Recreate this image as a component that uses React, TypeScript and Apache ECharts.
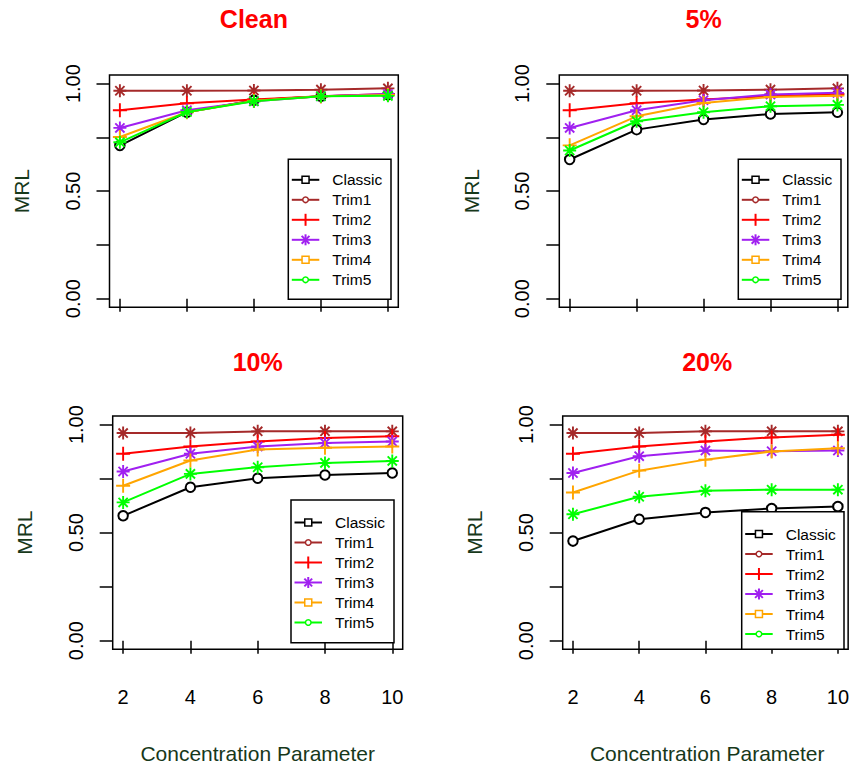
import React, { useEffect, useRef } from "react";
import * as echarts from "echarts";

// ---------- data ----------
const concentration = [2, 4, 6, 8, 10];
const seriesNames = ["Classic", "Trim1", "Trim2", "Trim3", "Trim4", "Trim5"];
const panelTitles = ["Clean", "5%", "10%", "20%"];
const yTickValues = [0, 0.25, 0.5, 0.75, 1];
const yLabelValues = [0, 0.5, 1];
const yAxisTitle = "MRL";
const xAxisTitle = "Concentration Parameter";

const cleanClassic = [0.712, 0.867, 0.923, 0.941, 0.948];
const cleanTrim1 = [0.967, 0.967, 0.968, 0.972, 0.978];
const cleanTrim2 = [0.876, 0.909, 0.926, 0.941, 0.952];
const cleanTrim3 = [0.794, 0.876, 0.918, 0.941, 0.952];
const cleanTrim4 = [0.752, 0.867, 0.92, 0.941, 0.947];
const cleanTrim5 = [0.727, 0.868, 0.918, 0.941, 0.943];

const pct5Classic = [0.647, 0.786, 0.833, 0.859, 0.867];
const pct5Trim1 = [0.967, 0.967, 0.968, 0.972, 0.978];
const pct5Trim2 = [0.876, 0.909, 0.926, 0.941, 0.952];
const pct5Trim3 = [0.794, 0.876, 0.923, 0.949, 0.957];
const pct5Trim4 = [0.713, 0.848, 0.91, 0.938, 0.944];
const pct5Trim5 = [0.689, 0.825, 0.867, 0.895, 0.901];

const pct10Classic = [0.578, 0.71, 0.752, 0.767, 0.776];
const pct10Trim1 = [0.961, 0.961, 0.969, 0.969, 0.969];
const pct10Trim2 = [0.865, 0.899, 0.922, 0.938, 0.946];
const pct10Trim3 = [0.783, 0.865, 0.899, 0.915, 0.922];
const pct10Trim4 = [0.717, 0.834, 0.885, 0.893, 0.899];
const pct10Trim5 = [0.64, 0.772, 0.803, 0.823, 0.832];

const pct20Classic = [0.461, 0.562, 0.593, 0.612, 0.621];
const pct20Trim1 = [0.961, 0.961, 0.969, 0.969, 0.969];
const pct20Trim2 = [0.865, 0.899, 0.922, 0.941, 0.953];
const pct20Trim3 = [0.776, 0.854, 0.88, 0.877, 0.88];
const pct20Trim4 = [0.686, 0.787, 0.838, 0.876, 0.891];
const pct20Trim5 = [0.585, 0.666, 0.694, 0.699, 0.699];

const panelData = [
  [cleanClassic, cleanTrim1, cleanTrim2, cleanTrim3, cleanTrim4, cleanTrim5],
  [pct5Classic, pct5Trim1, pct5Trim2, pct5Trim3, pct5Trim4, pct5Trim5],
  [pct10Classic, pct10Trim1, pct10Trim2, pct10Trim3, pct10Trim4, pct10Trim5],
  [pct20Classic, pct20Trim1, pct20Trim2, pct20Trim3, pct20Trim4, pct20Trim5],
];

// ---------- styles / layout ----------
const FONT = "'Liberation Sans', Arial, Helvetica, sans-serif";
const colors = ["#000000", "#A52A2A", "#FF0000", "#A020F0", "#FFA500", "#00FF00"];
const ASTERISK = "path://M5,0L5,10M0,5L10,5M1.46,1.46L8.54,8.54M1.46,8.54L8.54,1.46";
const PLUS = "path://M5,0L5,10M0,5L10,5";
const plotSymbols = ["emptyCircle", ASTERISK, PLUS, ASTERISK, PLUS, ASTERISK];
const plotSymbolSizes = [9.5, 13, 14, 13, 14, 13];
const legendSymbols = ["square", "circle", "plus", "asterisk", "square", "circle"];
const titleGreen = "#17381a";

const grids = [
  { left: 109.5, top: 75, width: 288.8, height: 232.3 },
  { left: 559.3, top: 75, width: 288.5, height: 232.3 },
  { left: 112.7, top: 416, width: 290, height: 233.3 },
  { left: 562.7, top: 416, width: 289, height: 233.3 },
];
const legendBoxes = [
  { x: 288.3, y: 159.3, w: 102.7, h: 140, first: 20.5 },
  { x: 738.3, y: 159.3, w: 102.7, h: 140, first: 20.5 },
  { x: 291, y: 500, w: 103, h: 142.7, first: 22.5 },
  { x: 741.7, y: 511.7, w: 102.3, h: 137.6, first: 22.3 },
];

function legendElements(b: { x: number; y: number; w: number; h: number; first: number }) {
  const els: any[] = [];
  els.push({
    type: "rect",
    shape: { x: b.x, y: b.y, width: b.w, height: b.h },
    style: { fill: "#fff", stroke: "#000", lineWidth: 1.5 },
    z: 100,
  });
  seriesNames.forEach((name, i) => {
    const cy = b.y + b.first + i * 20;
    const c = colors[i];
    const x1 = b.x + 3.5;
    const x2 = b.x + 31;
    const cx = (x1 + x2) / 2;
    els.push({
      type: "line",
      shape: { x1, y1: cy, x2, y2: cy },
      style: { stroke: c, lineWidth: 2 },
      z: 101,
    });
    const kind = legendSymbols[i];
    if (kind === "square") {
      els.push({
        type: "rect",
        shape: { x: cx - 3.5, y: cy - 3.5, width: 7, height: 7 },
        style: { fill: "#fff", stroke: c, lineWidth: 1.5 },
        z: 102,
      });
    } else if (kind === "circle") {
      els.push({
        type: "circle",
        shape: { cx, cy, r: 2.8 },
        style: { fill: "#fff", stroke: c, lineWidth: 1.5 },
        z: 102,
      });
    } else if (kind === "plus") {
      els.push({
        type: "line",
        shape: { x1: cx, y1: cy - 6, x2: cx, y2: cy + 6 },
        style: { stroke: c, lineWidth: 2 },
        z: 102,
      });
    } else if (kind === "asterisk") {
      const r = 5.5;
      const d = r * 0.707;
      els.push({ type: "line", shape: { x1: cx, y1: cy - r, x2: cx, y2: cy + r }, style: { stroke: c, lineWidth: 2 }, z: 102 });
      els.push({ type: "line", shape: { x1: cx - d, y1: cy - d, x2: cx + d, y2: cy + d }, style: { stroke: c, lineWidth: 2 }, z: 102 });
      els.push({ type: "line", shape: { x1: cx - d, y1: cy + d, x2: cx + d, y2: cy - d }, style: { stroke: c, lineWidth: 2 }, z: 102 });
    }
    els.push({
      type: "text",
      x: b.x + 44,
      y: cy,
      style: {
        text: name,
        fontSize: 15.5,
        fontFamily: FONT,
        fill: "#000",
        align: "left",
        verticalAlign: "middle",
      },
      z: 102,
    });
  });
  return els;
}

export default function App() {
  const ref = useRef<HTMLDivElement>(null);
  useEffect(() => {
    if (!ref.current) return;
    const chart = echarts.init(ref.current, null, { renderer: "svg" });

    const xAxis = grids.map((_, p) => ({
      gridIndex: p,
      type: "value",
      min: 1.69,
      max: 10.31,
      axisLine: { show: false },
      splitLine: { show: false },
      axisTick: {
        show: true,
        customValues: concentration,
        length: 13,
        lineStyle: { color: "#000", width: 1.5 },
      },
      axisLabel: {
        show: p >= 2,
        customValues: concentration,
        margin: 38,
        fontSize: 20,
        fontFamily: FONT,
        color: "#000",
      },
    }));

    const yAxis = grids.map((_, p) => ({
      gridIndex: p,
      type: "value",
      min: -0.04,
      max: 1.04,
      axisLine: { show: false },
      splitLine: { show: false },
      axisTick: {
        show: true,
        customValues: yTickValues,
        length: 13,
        lineStyle: { color: "#000", width: 1.5 },
      },
      axisLabel: {
        customValues: yLabelValues,
        rotate: 90,
        margin: 27,
        fontSize: 20,
        fontFamily: FONT,
        color: "#000",
        formatter: (v: number) => v.toFixed(2),
      },
    }));

    const series: any[] = [];
    panelData.forEach((panel, p) => {
      panel.forEach((vals, s) => {
        series.push({
          type: "line",
          name: seriesNames[s],
          xAxisIndex: p,
          yAxisIndex: p,
          data: concentration.map((x, i) => [x, vals[i]]),
          symbol: plotSymbols[s],
          symbolSize: plotSymbolSizes[s],
          showSymbol: true,
          showAllSymbol: true,
          lineStyle: { color: colors[s], width: 2 },
          itemStyle: { color: colors[s], borderColor: colors[s], borderWidth: 1.9 },
          emphasis: { disabled: true },
          silent: true,
          z: 2 + s,
        });
      });
    });

    const graphics: any[] = [];
    panelTitles.forEach((t, p) => {
      const g = grids[p];
      graphics.push({
        type: "text",
        x: g.left + g.width / 2,
        y: p < 2 ? 19 : 362,
        style: {
          text: t,
          fontSize: 25,
          fontWeight: "bold",
          fontFamily: FONT,
          fill: "#FF0000",
          align: "center",
          verticalAlign: "middle",
        },
      });
      graphics.push({
        type: "text",
        x: g.left - 88,
        y: g.top + g.height / 2,
        rotation: Math.PI / 2,
        style: {
          text: yAxisTitle,
          fontSize: 21,
          fontFamily: FONT,
          fill: titleGreen,
          align: "center",
          verticalAlign: "middle",
        },
      });
      if (p >= 2) {
        graphics.push({
          type: "text",
          x: g.left + g.width / 2,
          y: 753,
          style: {
            text: xAxisTitle,
            fontSize: 21,
            fontFamily: FONT,
            fill: titleGreen,
            align: "center",
            verticalAlign: "middle",
          },
        });
      }
      graphics.push(...legendElements(legendBoxes[p]));
    });

    chart.setOption({
      animation: false,
      backgroundColor: "#ffffff",
      grid: grids.map((g) => ({
        ...g,
        show: true,
        borderColor: "#000",
        borderWidth: 1.5,
        backgroundColor: "transparent",
        containLabel: false,
      })),
      xAxis,
      yAxis,
      series,
      graphic: graphics,
    });

    return () => chart.dispose();
  }, []);

  return (
    <div
      ref={ref}
      style={{ position: "fixed", left: 0, top: 0, width: 852, height: 767, background: "#fff" }}
    />
  );
}
